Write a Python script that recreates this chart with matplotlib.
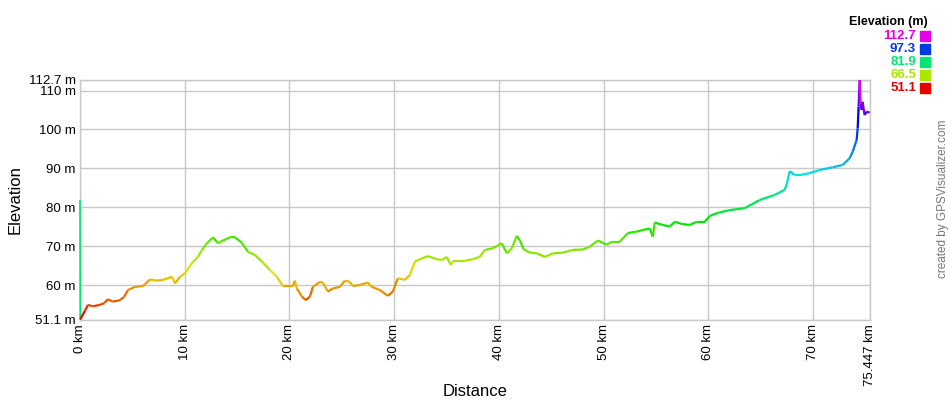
import numpy as np
import matplotlib
matplotlib.use("Agg")
from matplotlib import pyplot as plt
from matplotlib.collections import LineCollection
from matplotlib.colors import hsv_to_rgb

plt.rcParams['font.family'] = ['Liberation Sans', 'DejaVu Sans']

# profile (km, m)
dist = [0.0, 0.02, 0.1, 0.48, 0.76, 1.2, 1.91, 2.3, 2.67, 3.15, 3.82, 4.2, 4.58, 5.25, 6.01,
        6.68, 7.35, 7.92, 8.78, 9.07, 9.55, 10.02, 10.69, 11.26, 11.65, 12.12, 12.70,
        13.17, 13.65, 14.32, 14.80, 15.46, 16.04, 16.70, 17.37, 18.14, 18.80, 19.38,
        20.33, 20.52, 20.71, 21.19, 21.57, 21.95, 22.24, 22.91, 23.20, 23.67, 24.15,
        24.82, 25.30, 25.77, 26.06, 26.73, 27.49, 27.87, 28.64, 29.40, 29.88, 30.36,
        31.02, 31.50, 31.98, 32.46, 33.22, 34.08, 34.56, 35.03, 35.41, 35.61, 36.56,
        37.51, 38.18, 38.66, 39.42, 40.28, 40.76, 41.24, 41.71, 42.00, 42.38, 42.96,
        43.62, 44.39, 45.15, 46.11, 47.06, 48.01, 48.68, 49.45, 50.31, 50.78, 51.55,
        52.31, 53.17, 53.74, 54.41, 54.70, 54.89, 55.65, 56.32, 56.80, 57.56, 58.23,
        58.90, 59.66, 60.14, 60.90, 62.05, 63.48, 64.91, 66.34, 67.30, 67.50, 67.77,
        68.25, 68.73, 69.68, 70.64, 71.88, 72.83, 73.50, 73.79, 74.17, 74.27, 74.36,
        74.46, 74.55, 74.65, 74.74, 74.93, 75.12, 75.40, 75.447]
elev = [81.9, 51.2, 51.6, 53.5, 55.0, 54.6, 55.0, 55.4, 56.4, 55.8, 56.2, 57.0, 58.8, 59.6, 59.8,
        61.5, 61.2, 61.4, 62.2, 60.5, 62.2, 63.1, 65.7, 67.3, 69.1, 70.8, 72.3,
        70.8, 71.5, 72.3, 72.3, 70.9, 68.6, 67.8, 66.1, 63.9, 62.2, 59.8,
        59.8, 61.2, 59.2, 57.1, 56.2, 57.1, 59.6, 60.9, 60.7, 58.4, 59.2,
        59.6, 61.2, 60.9, 59.8, 60.1, 60.7, 59.6, 58.8, 57.3, 58.4, 61.8,
        61.4, 62.6, 66.1, 66.7, 67.5, 66.7, 66.5, 67.3, 65.2, 66.2, 66.2,
        66.7, 67.3, 69.1, 69.5, 70.8, 68.2, 69.5, 72.7, 71.6, 69.2, 68.4,
        68.2, 67.3, 68.2, 68.4, 69.1, 69.2, 69.9, 71.5, 70.4, 71.2, 71.2,
        73.4, 73.8, 74.2, 74.6, 72.5, 76.1, 75.5, 75.1, 76.3, 75.7, 75.5,
        76.3, 76.3, 77.8, 78.6, 79.3, 79.8, 81.9, 83.2, 84.5, 86.0, 89.3,
        88.3, 88.3, 88.8, 89.6, 90.3, 90.9, 92.6, 94.3, 97.3, 100.3, 105.9,
        112.7, 106.7, 105.0, 107.1, 103.7, 104.6, 104.3, 104.3]

legend_vals = [112.7, 97.3, 81.9, 66.5, 51.1]
ytick_vals = [51.1, 60, 70, 80, 90, 100, 110, 112.7]
xtick_vals = [0, 10, 20, 30, 40, 50, 60, 70, 75.447]
xtick_labels = ['0 km', '10 km', '20 km', '30 km', '40 km', '50 km', '60 km', '70 km', '75.447 km']

emin, emax = 51.1, 112.7


def elev_color(e):
    h = (e - emin) / (emax - emin) * 300.0 / 360.0
    return hsv_to_rgb([h, 1.0, 0.9])


fig = plt.figure(figsize=(9.5, 4), dpi=100)
ax = fig.add_axes([80 / 950, 0.2, 790 / 950, 0.6])

x = np.array(dist)
y = np.array(elev)
pts = np.column_stack([x, y]).reshape(-1, 1, 2)
segs = np.concatenate([pts[:-1], pts[1:]], axis=1)
cols = [elev_color(a) for a in y[:-1]]
lws = [1.2] + [1.6] * (len(segs) - 1)
lc = LineCollection(segs, colors=cols, linewidths=lws, capstyle='butt', zorder=5)
lc.set_clip_on(False)
ax.add_collection(lc)

ax.set_xlim(0, 75.447)
ax.set_ylim(emin, emax)
ax.set_yticks(ytick_vals)
ax.set_yticklabels([f'{v:g} m' for v in ytick_vals], fontsize=9.5)
ax.set_xticks(xtick_vals)
ax.set_xticklabels(xtick_labels, rotation=90, fontsize=9.5, va='top', ha='center')
ax.tick_params(length=0, pad=3)
ax.grid(True, color='#c8c8c8', linewidth=1)
ax.set_axisbelow(True)
for s in ax.spines.values():
    s.set_color('#c8c8c8')
    s.set_linewidth(1)

fig.text(15 / 950, 1 - 200 / 400, 'Elevation', rotation=90, fontsize=12, ha='center', va='center')
fig.text(475 / 950, 1 - 392 / 400, 'Distance', fontsize=12, ha='center', va='center')

# legend
fig.text(888 / 950, 1 - 22 / 400, 'Elevation (m)', fontsize=9, fontweight='bold',
         ha='center', va='center')
for i, v in enumerate(legend_vals):
    yc = 1 - (36 + i * 13) / 400
    c = elev_color(v)
    fig.text(916 / 950, yc, f'{v:.1f}', color=c, fontsize=9.5, fontweight='bold',
             ha='right', va='center')
    fig.patches.append(plt.Rectangle((920 / 950, yc - 5 / 400), 10 / 950, 10 / 400,
                                     transform=fig.transFigure, color=c, figure=fig))

fig.text(943 / 950, 1 - 199 / 400, 'created by GPSVisualizer.com', rotation=90,
         fontsize=8.5, color='#777777', ha='center', va='center')

fig.savefig('out.png', dpi=100)
